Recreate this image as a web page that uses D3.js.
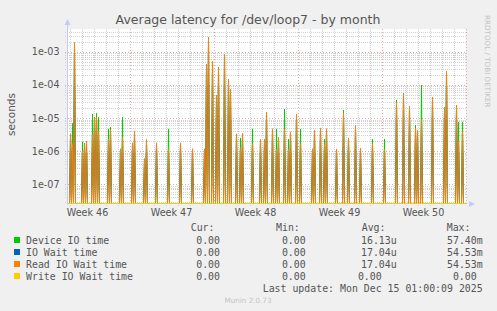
<!DOCTYPE html>
<html><head><meta charset="utf-8">
<script src="https://cdn.jsdelivr.net/npm/d3@7"></script>
<style>
html,body{margin:0;padding:0;background:#f0f0f0;}
svg{display:block;}
</style></head>
<body><svg id="c" width="497" height="311"></svg>
<script>
const times = ["2025-11-12 02:00","2025-11-12 06:00","2025-11-12 10:00","2025-11-13 02:00","2025-11-13 06:00","2025-11-13 10:00","2025-11-13 22:00","2025-11-14 02:00","2025-11-14 06:00","2025-11-14 10:00",
"2025-11-15 06:00","2025-11-15 10:00","2025-11-16 06:00","2025-11-16 10:00","2025-11-17 06:00","2025-11-17 10:00","2025-11-18 06:00","2025-11-18 10:00","2025-11-19 06:00","2025-11-20 06:00",
"2025-11-21 06:00","2025-11-22 06:00","2025-11-23 06:00","2025-11-23 10:00","2025-11-23 14:00","2025-11-23 22:00","2025-11-24 06:00","2025-11-24 10:00","2025-11-24 22:00","2025-11-25 06:00",
"2025-11-25 10:00","2025-11-25 22:00","2025-11-26 06:00","2025-11-26 10:00","2025-11-27 06:00","2025-11-27 22:00","2025-11-28 06:00","2025-11-28 10:00","2025-11-28 22:00","2025-11-29 06:00",
"2025-11-29 10:00","2025-11-29 22:00","2025-11-30 06:00","2025-11-30 10:00","2025-11-30 22:00","2025-12-01 06:00","2025-12-02 06:00","2025-12-02 10:00","2025-12-02 22:00","2025-12-03 06:00",
"2025-12-03 10:00","2025-12-04 06:00","2025-12-04 20:00","2025-12-05 06:00","2025-12-05 20:00","2025-12-06 06:00","2025-12-07 06:00","2025-12-08 06:00","2025-12-09 06:00","2025-12-09 20:00",
"2025-12-10 08:00","2025-12-10 20:00","2025-12-11 00:00","2025-12-11 08:00","2025-12-12 06:00","2025-12-13 06:00","2025-12-13 10:00","2025-12-14 06:00","2025-12-14 10:00","2025-12-14 18:00"];
const deviceIO = [2.0e-6,6.9e-6,1.5e-3,1.9e-6,1.2e-6,1.5e-6,1.32e-5,8e-6,1.4e-5,1.05e-5,
4.7e-6,5.2e-6,1.0e-6,1.05e-5,1.2e-6,3e-6,5e-7,1.8e-6,1.5e-6,4.7e-6,
1.5e-6,1e-6,1e-6,3.5e-4,2.7e-3,4.5e-4,4.5e-5,3.4e-4,8.2e-4,1.3e-4,
6e-5,3e-6,2.5e-6,3e-6,4.7e-6,2e-6,2e-6,1.3e-5,4e-6,4.7e-6,
2.2e-6,1.87e-5,2.3e-6,3.3e-6,1.1e-5,4.7e-6,1e-6,3.8e-6,4.3e-6,2.3e-6,
4e-6,1e-6,1.74e-5,2.5e-6,5e-6,1e-6,2.3e-6,2.3e-6,3.5e-5,4.5e-5,
1.8e-5,6.1e-6,3.5e-6,9.9e-5,3.5e-5,1.8e-5,2.2e-4,2.0e-5,7.6e-6,7.6e-6];
const readIO = [3.3e-6,1.7e-6,1.87e-3,1.0e-6,1.7e-6,2.0e-6,3.2e-6,1.05e-5,1.05e-5,4.1e-6,
2.3e-6,4.5e-6,1.17e-6,2.6e-6,1.77e-6,4.0e-6,5.9e-7,2.2e-6,1.77e-6,1.15e-6,
1.77e-6,1.17e-6,1.17e-6,4.1e-4,2.5e-3,5.0e-4,4.9e-5,3.2e-4,7.8e-4,1.5e-4,
7.1e-5,3.3e-6,1.3e-6,3.5e-6,1.7e-6,2.3e-6,2.3e-6,1.5e-5,4.7e-6,1.17e-6,
2.6e-6,4.7e-6,1.17e-6,3.8e-6,1.32e-5,1.7e-6,1.17e-6,4.3e-6,5.0e-6,1.7e-6,
4.7e-6,1.15e-6,1.39e-5,2.4e-6,5.8e-6,1.2e-6,1.7e-6,1.17e-6,3.0e-5,5.5e-5,
2.2e-5,4.9e-6,4.3e-6,8.7e-6,4.2e-5,2.1e-5,2.6e-4,2.4e-5,2e-6,4e-6];
const ioWait = readIO.slice();
const writeIO = [0,0,0,0,0,0,0,0,0,0, 0,0,0,0,0,0,0,0,0,0, 0,0,0,0,0,0,0,0,0,0, 0,0,0,0,0,0,0,0,0,0, 0,0,0,0,0,0,0,0,0,0, 0,0,0,0,0,0,0,0,0,0, 0,0,0,0,0,0,0,0,0,0];

const yTickValues = [1e-7,1e-6,1e-5,1e-4,1e-3];
const yTickLabels = ["1e-07","1e-06","1e-05","1e-04","1e-03"];
const weekCenters = ["2025-11-13 12:00","2025-11-20 12:00","2025-11-27 12:00","2025-12-04 12:00","2025-12-11 12:00"];
const weekLabels = ["Week 46","Week 47","Week 48","Week 49","Week 50"];

const seriesNames = ["Device IO time","IO Wait time","Read IO Wait time","Write IO Wait time"];
const seriesColors = ["#00cc00","#0066b3","#ff8000","#ffcc00"];
const curVals = ["0.00","0.00","0.00","0.00"];
const minVals = ["0.00","0.00","0.00","0.00"];
const avgVals = ["16.13u","17.04u","17.04u","0.00"];
const maxVals = ["57.40m","54.53m","54.53m","0.00"];

const parse = d3.timeParse("%Y-%m-%d %H:%M");
const svg = d3.select("#c");
const L = 67, R = 466, T = 29, B = 203.5;

const x = d3.scaleTime().domain([parse("2025-11-11 19:00"), parse("2025-12-15 01:00")]).range([L, R]);
const y = d3.scaleLog().domain([1e-7, 1e-3]).range([184.3, 51.7]);

svg.append("rect").attr("x", L).attr("y", T).attr("width", R - L).attr("height", B - T).attr("fill", "#ffffff");

const yMin = y.invert(B), yMax = y.invert(T);
const minorY = [];
for (let e = -8; e <= -2; e++) for (let m = 2; m <= 9; m++) { const v = m * Math.pow(10, e); if (v > yMin && v < yMax) minorY.push(v); }
const g = svg.append("g").attr("shape-rendering", "crispEdges");
g.selectAll(".hmin").data(minorY).join("line")
  .attr("x1", L - 2).attr("x2", R).attr("y1", d => Math.round(y(d)) + 0.5).attr("y2", d => Math.round(y(d)) + 0.5)
  .attr("stroke", "#d2d2d2").attr("stroke-dasharray", "1,1");
const days = d3.timeDay.range(x.domain()[0], x.domain()[1]).filter(d => d.getDay() !== 1);
g.selectAll(".vmin").data(days).join("line")
  .attr("y1", T).attr("y2", B + 2).attr("x1", d => Math.round(x(d)) + 0.5).attr("x2", d => Math.round(x(d)) + 0.5)
  .attr("stroke", "#d2d2d2").attr("stroke-dasharray", "1,1");
g.selectAll(".hmaj").data(yTickValues).join("line")
  .attr("x1", L - 2).attr("x2", R).attr("y1", d => Math.round(y(d)) + 0.5).attr("y2", d => Math.round(y(d)) + 0.5)
  .attr("stroke", "#eaa8a8").attr("stroke-dasharray", "1,2");
const weeks = d3.timeMonday.range(x.domain()[0], x.domain()[1]);
g.selectAll(".vmaj").data(weeks).join("line")
  .attr("y1", T).attr("y2", B + 3).attr("x1", d => Math.round(x(d)) + 0.5).attr("x2", d => Math.round(x(d)) + 0.5)
  .attr("stroke", "#eaa8a8").attr("stroke-dasharray", "1,2");

svg.append("clipPath").attr("id", "clip").append("rect").attr("x", L).attr("y", T).attr("width", R - L + 1).attr("height", B - T + 1);
const dataG = svg.append("g").attr("clip-path", "url(#clip)");
const allSeries = [deviceIO, ioWait, readIO, writeIO];
allSeries.forEach((vals, si) => {
  const p = d3.path();
  p.moveTo(L, B);
  times.forEach((t, i) => {
    const xx = x(parse(t));
    const v = vals[i];
    p.lineTo(xx - 1, B);
    p.lineTo(xx, v > 0 ? y(v) : B);
    p.lineTo(xx + 1, B);
  });
  p.lineTo(R, B);
  dataG.append("path").attr("d", p.toString()).attr("fill", "none")
    .attr("stroke", seriesColors[si]).attr("stroke-width", 1);
});

const axisCol = "#c4cbf2";
svg.append("line").attr("x1", L + 0.5).attr("x2", L + 0.5).attr("y1", B + 1).attr("y2", 24).attr("stroke", axisCol);
svg.append("path").attr("d", `M${L - 2.5},25 L${L + 0.5},19 L${L + 3.5},25 Z`).attr("fill", axisCol);
svg.append("path").attr("d", `M469,${B - 2.5} L475,${B + 0.5} L469,${B + 3.5} Z`).attr("fill", axisCol);

svg.append("g").selectAll("text").data(yTickValues).join("text")
  .attr("x", 59.5).attr("y", d => y(d) + 3.5).attr("text-anchor", "end")
  .attr("font-family", "DejaVu Sans").attr("font-size", "9.6px").attr("fill", "#555")
  .text((d, i) => yTickLabels[i]);
svg.append("g").selectAll("text").data(weekCenters).join("text")
  .attr("x", d => x(parse(d))).attr("y", 215.5).attr("text-anchor", "middle")
  .attr("font-family", "DejaVu Sans").attr("font-size", "9.6px").attr("fill", "#555")
  .text((d, i) => weekLabels[i]);

svg.append("text").attr("x", 248).attr("y", 23.5).attr("text-anchor", "middle")
  .attr("font-family", "DejaVu Sans").attr("font-size", "12.5px").attr("fill", "#555")
  .text("Average latency for /dev/loop7 - by month");
svg.append("text").attr("transform", "translate(15,114.5) rotate(-90)").attr("text-anchor", "middle")
  .attr("font-family", "DejaVu Sans").attr("font-size", "10.5px").attr("fill", "#555").text("seconds");
svg.append("text").attr("transform", "translate(485,15) rotate(90)").attr("text-anchor", "start")
  .attr("font-family", "DejaVu Sans").attr("font-size", "7.2px").attr("fill", "#c4c4c4").text("RRDTOOL / TOBI OETIKER");

const mono = "DejaVu Sans Mono";
const lg = svg.append("g").attr("font-family", mono).attr("font-size", "9.9px").attr("fill", "#555");
const heads = [["Cur:", 190.7], ["Min:", 276], ["Avg:", 361.7], ["Max:", 446.7]];
heads.forEach(h => lg.append("text").attr("x", h[1]).attr("y", 231).text(h[0]));
seriesNames.forEach((n, i) => {
  const yy = 243.5 + i * 12;
  lg.append("rect").attr("x", 14).attr("y", yy - 6.5).attr("width", 6).attr("height", 6).attr("fill", seriesColors[i]);
  lg.append("text").attr("x", 26).attr("y", yy).text(n);
  lg.append("text").attr("x", 220).attr("y", yy).attr("text-anchor", "end").text(curVals[i]);
  lg.append("text").attr("x", 305.7).attr("y", yy).attr("text-anchor", "end").text(minVals[i]);
  lg.append("text").attr("x", avgVals[i].length > 4 ? 396.7 : 381.7).attr("y", yy).attr("text-anchor", "end").text(avgVals[i]);
  lg.append("text").attr("x", maxVals[i].length > 4 ? 482.7 : 476.7).attr("y", yy).attr("text-anchor", "end").text(maxVals[i]);
});
lg.append("text").attr("x", 482.7).attr("y", 291.5).attr("text-anchor", "end").text("Last update: Mon Dec 15 01:00:09 2025");
svg.append("text").attr("x", 248).attr("y", 303).attr("text-anchor", "middle")
  .attr("font-family", "DejaVu Sans").attr("font-size", "7.2px").attr("fill", "#c4c4c4").text("Munin 2.0.73");
</script></body></html>
